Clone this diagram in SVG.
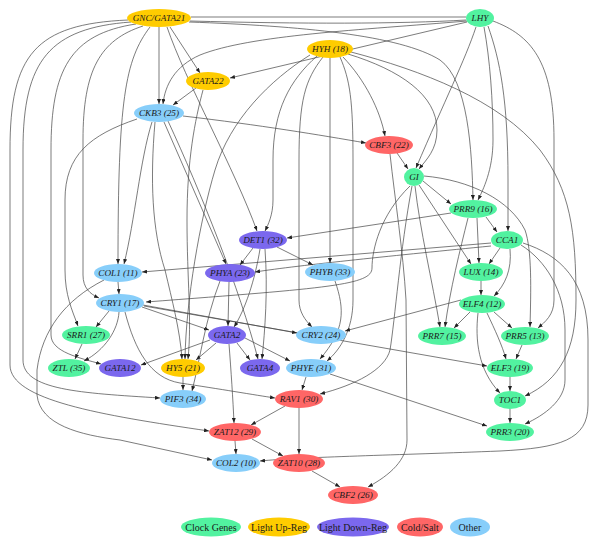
<svg xmlns="http://www.w3.org/2000/svg" width="600" height="555" viewBox="0 0 600 555">
<defs>
<marker id="ah" markerWidth="5" markerHeight="4" refX="5" refY="2" orient="auto" markerUnits="userSpaceOnUse">
<path d="M0,0 L5,2 L0,4 Z" fill="#222"/>
</marker>
</defs>
<style>
.e{fill:none;stroke:#444;stroke-width:0.7}
.a{marker-end:url(#ah)}
.n text{font-family:"Liberation Serif",serif;font-style:italic;font-size:9.2px;fill:#1a1a1a;text-anchor:middle;dominant-baseline:central}
.lg text{font-family:"Liberation Serif",serif;font-size:10px;fill:#1a1a1a;text-anchor:middle;dominant-baseline:central}
.clk{fill:#52f2a0}
.up{fill:#ffcc00}
.dn{fill:#7b68ee}
.cold{fill:#ff6666}
.oth{fill:#87cefa}
</style>
<rect width="600" height="555" fill="#fff"/>
<g id="edges">
<path class="e a" d="M159,27 L159,104"/>
<path class="e a" d="M170,27 L200,73"/>
<path class="e a" d="M196,88 L173,105"/>
<path class="e a" d="M467,21 C360,30 250,35 200,55 C175,66 165,85 163,104"/>
<path class="e a" d="M467,22 L230,78"/>
<path class="e" d="M191,17 L466,17"/>
<path class="e" d="M190,21 C300,24 400,24 466,20"/>
<path class="e a" d="M189,22 C300,26 400,35 440,60 C468,80 472,150 473,200"/>
<path class="e a" d="M167,27 C185,80 235,170 257,231"/>
<path class="e a" d="M150,27 C125,60 118,100 118,264"/>
<path class="e a" d="M152,122 C140,160 135,220 124,264"/>
<path class="e a" d="M143,26 C100,40 83,70 83,140 L83,275 C83,288 90,294 99,298"/>
<path class="e a" d="M136,24 C70,34 51,70 51,150 L51,335 C51,352 80,358 101,364"/>
<path class="e a" d="M131,22 C50,28 23,60 23,150 L23,360 C23,390 80,393 160,398"/>
<path class="e a" d="M128,20 C35,24 10,55 10,150 L10,365 C10,400 100,415 209,431"/>
<path class="e a" d="M137,119 C90,135 65,155 65,200 L65,270 C65,295 72,310 78,326"/>
<path class="e a" d="M164,122 L226,264"/>
<path class="e a" d="M155,122 C150,180 152,230 165,270 C172,300 180,330 182,359"/>
<path class="e a" d="M168,121 C200,190 240,290 258,359"/>
<path class="e a" d="M183,116 C260,125 320,135 366,143"/>
<path class="e a" d="M203,90 C195,120 187,160 187,220 C187,280 192,320 188,359"/>
<path class="e a" d="M310,55 C270,80 230,120 215,170 C200,220 186,300 185,359"/>
<path class="e a" d="M317,56 C290,80 273,110 273,160 L273,200 C273,215 268,225 265,231"/>
<path class="e a" d="M323,57 C305,80 299,100 299,160 L299,300 C299,312 305,320 312,327"/>
<path class="e a" d="M330,58 L330,263"/>
<path class="e a" d="M340,57 C350,80 353,100 353,160 L353,300 C353,330 340,350 327,361"/>
<path class="e a" d="M343,57 C365,80 380,110 385,136"/>
<path class="e a" d="M348,54 C400,70 437,95 437,130 C437,150 426,160 419,169"/>
<path class="e a" d="M351,52 C420,70 500,100 540,150 C570,190 576,230 576,300 C576,350 560,380 525,396"/>
<path class="e a" d="M476,27 C465,60 445,100 416,168"/>
<path class="e a" d="M484,27 C490,60 493,100 493,140 C493,170 483,190 478,200"/>
<path class="e a" d="M488,26 C500,60 508,100 508,180 L508,231"/>
<path class="e a" d="M493,21 C530,35 554,60 554,140 L554,300 C554,315 545,322 538,328"/>
<path class="e a" d="M397,153 L408,169"/>
<path class="e a" d="M390,154 C395,200 403,250 406,300 L407,440 C407,460 390,475 368,487"/>
<path class="e a" d="M423,181 L451,204"/>
<path class="e a" d="M419,185 L471,264"/>
<path class="e a" d="M415,186 C420,230 432,280 440,327"/>
<path class="e a" d="M410,186 C380,215 372,250 372,268 C372,285 330,288 146,302"/>
<path class="e a" d="M412,186 C400,250 395,320 390,350 C385,370 355,385 320,394"/>
<path class="e a" d="M424,176 C470,180 510,200 525,230 C532,250 531,290 530,327"/>
<path class="e a" d="M486,217 L497,232"/>
<path class="e a" d="M477,218 L479,263"/>
<path class="e a" d="M451,213 L287,238"/>
<path class="e a" d="M468,218 C460,250 450,290 445,327"/>
<path class="e a" d="M500,248 L489,264"/>
<path class="e a" d="M510,249 C512,270 505,285 494,296"/>
<path class="e a" d="M491,243 L142,272"/>
<path class="e a" d="M491,246 C400,255 300,265 255,272"/>
<path class="e a" d="M523,243 C560,255 588,280 588,340 L588,405 C588,440 560,448 500,451 C400,455 300,457 260,461"/>
<path class="e a" d="M521,245 C545,260 565,290 565,330 L565,380 C565,400 545,415 525,424"/>
<path class="e a" d="M481,281 L481,295"/>
<path class="e a" d="M461,300 L345,331"/>
<path class="e a" d="M470,312 L454,328"/>
<path class="e a" d="M494,312 L512,328"/>
<path class="e a" d="M487,313 C495,330 502,345 506,359"/>
<path class="e a" d="M478,313 C475,340 478,370 500,393"/>
<path class="e a" d="M522,345 L516,359"/>
<path class="e a" d="M510,377 L510,391"/>
<path class="e a" d="M510,409 L510,423"/>
<path class="e a" d="M330,374 L487,426"/>
<path class="e a" d="M306,377 L302,390"/>
<path class="e a" d="M144,306 L487,366"/>
<path class="e a" d="M143,305 L297,333"/>
<path class="e a" d="M142,307 L209,330"/>
<path class="e a" d="M109,311 L96,327"/>
<path class="e a" d="M119,312 C118,330 105,350 84,361"/>
<path class="e a" d="M125,312 C135,350 150,378 180,383 C220,389 255,395 275,398"/>
<path class="e a" d="M118,282 L119,294"/>
<path class="e a" d="M104,280 C65,300 42,330 37,370 L37,395 C40,425 80,435 120,440 L212,460"/>
<path class="e a" d="M82,344 L75,359"/>
<path class="e a" d="M210,340 L141,365"/>
<path class="e a" d="M216,343 L196,360"/>
<path class="e a" d="M237,343 L250,360"/>
<path class="e a" d="M245,338 L290,361"/>
<path class="e a" d="M229,344 C231,370 233,400 234,423"/>
<path class="e a" d="M229,282 L228,326"/>
<path class="e a" d="M220,281 C205,320 200,360 192,391"/>
<path class="e a" d="M183,377 L183,390"/>
<path class="e a" d="M253,248 L240,265"/>
<path class="e a" d="M277,247 L313,265"/>
<path class="e a" d="M260,249 C255,280 245,310 234,327"/>
<path class="e a" d="M265,249 C268,290 265,330 262,359"/>
<path class="e a" d="M335,281 C345,310 345,330 320,359"/>
<path class="e a" d="M285,406 L251,425"/>
<path class="e a" d="M299,408 L299,454"/>
<path class="e a" d="M235,441 L236,454"/>
<path class="e a" d="M252,439 L283,456"/>
<path class="e a" d="M312,471 L340,487"/>
</g>
<g id="GNC" class="n"><ellipse class="up" cx="159" cy="18" rx="32" ry="9"/><text x="159" y="18">GNC/GATA21</text></g>
<g id="LHY" class="n"><ellipse class="clk" cx="480" cy="18" rx="14" ry="9"/><text x="480" y="18">LHY</text></g>
<g id="HYH" class="n"><ellipse class="up" cx="330" cy="49" rx="23" ry="9"/><text x="330" y="49">HYH (18)</text></g>
<g id="GATA22" class="n"><ellipse class="up" cx="208" cy="81" rx="22" ry="9"/><text x="208" y="81">GATA22</text></g>
<g id="CKB3" class="n"><ellipse class="oth" cx="159" cy="113" rx="25" ry="9"/><text x="159" y="113">CKB3 (25)</text></g>
<g id="CBF3" class="n"><ellipse class="cold" cx="389" cy="145" rx="24" ry="9"/><text x="389" y="145">CBF3 (22)</text></g>
<g id="GI" class="n"><ellipse class="clk" cx="414" cy="177" rx="10" ry="9"/><text x="414" y="177">GI</text></g>
<g id="PRR9" class="n"><ellipse class="clk" cx="473" cy="209" rx="24" ry="9"/><text x="473" y="209">PRR9 (16)</text></g>
<g id="DET1" class="n"><ellipse class="dn" cx="263" cy="240" rx="24" ry="9"/><text x="263" y="240">DET1 (32)</text></g>
<g id="CCA1" class="n"><ellipse class="clk" cx="507" cy="240" rx="16" ry="9"/><text x="507" y="240">CCA1</text></g>
<g id="COL1" class="n"><ellipse class="oth" cx="118" cy="273" rx="24" ry="9"/><text x="118" y="273">COL1 (11)</text></g>
<g id="PHYA" class="n"><ellipse class="dn" cx="230" cy="273" rx="25" ry="9"/><text x="230" y="273">PHYA (23)</text></g>
<g id="PHYB" class="n"><ellipse class="oth" cx="330" cy="272" rx="25" ry="9"/><text x="330" y="272">PHYB (33)</text></g>
<g id="LUX" class="n"><ellipse class="clk" cx="481" cy="272" rx="22" ry="9"/><text x="481" y="272">LUX (14)</text></g>
<g id="CRY1" class="n"><ellipse class="oth" cx="120" cy="303" rx="24" ry="9"/><text x="120" y="303">CRY1 (17)</text></g>
<g id="ELF4" class="n"><ellipse class="clk" cx="482" cy="304" rx="23" ry="9"/><text x="482" y="304">ELF4 (12)</text></g>
<g id="SRR1" class="n"><ellipse class="clk" cx="86" cy="335" rx="24" ry="9"/><text x="86" y="335">SRR1 (27)</text></g>
<g id="GATA2" class="n"><ellipse class="dn" cx="227" cy="335" rx="19" ry="9"/><text x="227" y="335">GATA2</text></g>
<g id="CRY2" class="n"><ellipse class="oth" cx="321" cy="335" rx="25" ry="9"/><text x="321" y="335">CRY2 (24)</text></g>
<g id="PRR7" class="n"><ellipse class="clk" cx="442" cy="336" rx="24" ry="9"/><text x="442" y="336">PRR7 (15)</text></g>
<g id="PRR5" class="n"><ellipse class="clk" cx="525" cy="336" rx="24" ry="9"/><text x="525" y="336">PRR5 (13)</text></g>
<g id="ZTL" class="n"><ellipse class="clk" cx="69" cy="368" rx="21" ry="9"/><text x="69" y="368">ZTL (35)</text></g>
<g id="GATA12" class="n"><ellipse class="dn" cx="120" cy="368" rx="21" ry="9"/><text x="120" y="368">GATA12</text></g>
<g id="HY5" class="n"><ellipse class="up" cx="183" cy="368" rx="22" ry="9"/><text x="183" y="368">HY5 (21)</text></g>
<g id="GATA4" class="n"><ellipse class="dn" cx="260" cy="368" rx="20" ry="9"/><text x="260" y="368">GATA4</text></g>
<g id="PHYE" class="n"><ellipse class="oth" cx="311" cy="368" rx="25" ry="9"/><text x="311" y="368">PHYE (31)</text></g>
<g id="ELF3" class="n"><ellipse class="clk" cx="510" cy="368" rx="23" ry="9"/><text x="510" y="368">ELF3 (19)</text></g>
<g id="PIF3" class="n"><ellipse class="oth" cx="183" cy="399" rx="23" ry="9"/><text x="183" y="399">PIF3 (34)</text></g>
<g id="RAV1" class="n"><ellipse class="cold" cx="299" cy="399" rx="24" ry="9"/><text x="299" y="399">RAV1 (30)</text></g>
<g id="TOC1" class="n"><ellipse class="clk" cx="510" cy="400" rx="16" ry="9"/><text x="510" y="400">TOC1</text></g>
<g id="ZAT12" class="n"><ellipse class="cold" cx="235" cy="432" rx="26" ry="9"/><text x="235" y="432">ZAT12 (29)</text></g>
<g id="PRR3" class="n"><ellipse class="clk" cx="510" cy="432" rx="24" ry="9"/><text x="510" y="432">PRR3 (20)</text></g>
<g id="COL2" class="n"><ellipse class="oth" cx="236" cy="463" rx="24" ry="9"/><text x="236" y="463">COL2 (10)</text></g>
<g id="ZAT10" class="n"><ellipse class="cold" cx="299" cy="463" rx="26" ry="9"/><text x="299" y="463">ZAT10 (28)</text></g>
<g id="CBF2" class="n"><ellipse class="cold" cx="353" cy="495" rx="25" ry="9"/><text x="353" y="495">CBF2 (26)</text></g>
<g id="legend" class="lg">
<ellipse class="clk" cx="211" cy="527" rx="30" ry="9.5"/><text x="211" y="527">Clock Genes</text>
<ellipse class="up" cx="279" cy="527" rx="31" ry="9.5"/><text x="279" y="527">Light Up-Reg</text>
<ellipse class="dn" cx="353" cy="527" rx="36" ry="9.5"/><text x="353" y="527">Light Down-Reg</text>
<ellipse class="cold" cx="420" cy="527" rx="23" ry="9.5"/><text x="420" y="527">Cold/Salt</text>
<ellipse class="oth" cx="470" cy="527" rx="20" ry="9.5"/><text x="470" y="527">Other</text>
</g>
</svg>
